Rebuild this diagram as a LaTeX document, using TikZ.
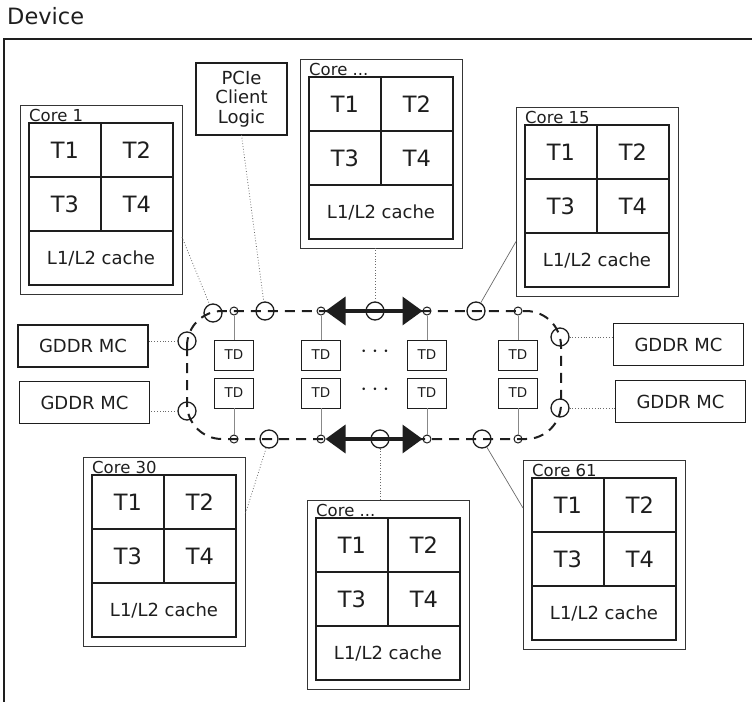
\documentclass[tikz,border=0pt]{standalone}
\usepackage{fontspec}
\setmainfont{DejaVu Sans}
\usetikzlibrary{positioning,fit,arrows.meta}
\definecolor{InkDark}{HTML}{1E1E1E}
\definecolor{WireGray}{HTML}{6A6A6A}

\tikzset{
  box/.style={draw=InkDark, line width=1.3pt, inner sep=0pt, outer sep=0pt, text=InkDark},
  thread/.style={box, minimum width=72pt, minimum height=54pt, font=\fontsize{22.5}{26}\selectfont},
  cache/.style={box, minimum width=144pt, minimum height=54pt, font=\fontsize{18}{21}\selectfont},
  coreframe/.style={draw=InkDark!90, line width=1pt, inner sep=9pt, outer sep=0pt},
  corelabel/.style={inner sep=0pt, text=InkDark, font=\fontsize{16.5}{19}\selectfont},
  memctl/.style={box, minimum width=130pt, minimum height=42pt, font=\fontsize{18}{21}\selectfont},
  tdbox/.style={box, line width=1pt, minimum width=39pt, minimum height=30pt, font=\fontsize{13.5}{15}\selectfont},
  stop/.style={circle, draw=InkDark, line width=1pt, minimum size=8pt, inner sep=0pt},
  hop/.style={circle, draw=InkDark, line width=1.3pt, minimum size=18pt, inner sep=0pt},
  ring/.style={draw=InkDark, line width=2pt, dash pattern=on 10pt off 7pt, rounded corners=35pt},
  link/.style={draw=WireGray, line width=0.8pt, dotted},
  wire/.style={draw=WireGray, line width=0.7pt},
  stub/.style={draw=WireGray!80, line width=0.8pt},
  bus/.style={draw=InkDark, line width=3.5pt, {Triangle[length=20pt,width=28pt]}-{Triangle[length=20pt,width=28pt]}},
  dots/.style={inner sep=0pt, text=InkDark, font=\fontsize{25}{28}\selectfont},
}

% one core: name, top left corner of the thread grid, label
\newcommand{\corebox}[3]{%
  \node[thread, anchor=north west] (#1-t1) at (#2) {T1};
  \node[thread, right=0pt of #1-t1] (#1-t2) {T2};
  \node[thread, below=0pt of #1-t1] (#1-t3) {T3};
  \node[thread, right=0pt of #1-t3] (#1-t4) {T4};
  \node[cache, anchor=north west] (#1-c) at (#1-t3.south west) {L1/L2 cache};
  \coordinate (#1-top) at ([yshift=9pt]#1-t1.north);
  \node[coreframe, fit=(#1-t1)(#1-t4)(#1-c)(#1-top)] (#1) {};
  \node[corelabel, anchor=base west] at ([yshift=2pt]#1-t1.north west) {#3};
}

\begin{document}
\begin{tikzpicture}[x=1pt, y=-1pt]
  \useasboundingbox (0,0) rectangle (752,702);

  % device frame
  \node[anchor=base west, inner sep=0pt, text=InkDark, font=\fontsize{22.5}{26}\selectfont] (devlabel) at (7,24) {Device};
  \draw[InkDark, line width=2.5pt] (752,39) -- (4,39) -- (4,702);

  % cores
  \corebox{core1}{29,123}{Core 1}
  \corebox{ctop}{309,77}{Core ...}
  \corebox{c15}{525,125}{Core 15}
  \corebox{c30}{92,475}{Core 30}
  \corebox{cbot}{316,518}{Core ...}
  \corebox{c61}{532,478}{Core 61}

  % pcie and memory controllers
  \node[box, minimum width=91pt, minimum height=72pt, align=center,
        font=\fontsize{18}{19.5}\selectfont] (pcie) at (241.5,99) {PCIe\\Client\\Logic};
  \node[memctl] (gl1) at (83,346) {GDDR MC};
  \node[memctl] (gl2) at (84.5,402.5) {GDDR MC};
  \node[memctl] (gr1) at (678.5,344.5) {GDDR MC};
  \node[memctl] (gr2) at (680.5,401.5) {GDDR MC};

  % ring
  \draw[ring] (187,311) rectangle (561,439);

  % stops and tag directories
  \foreach \x [count=\i] in {234,321,427,518} {
    \node[stop] (tt\i) at (\x,311) {};
    \node[stop] (tb\i) at (\x,439) {};
    \node[tdbox] (tdu\i) at (\x,355) {TD};
    \node[tdbox] (tdl\i) at (\x,393) {TD};
    \draw[stub] (tt\i) -- (tdu\i);
    \draw[stub] (tdl\i) -- (tb\i);
  }
  \node[dots] (dotsu) at (375,352) {$\cdots$};
  \node[dots] (dotsl) at (375,390) {$\cdots$};

  % ring hops
  \node[hop] (hc1) at (213,313) {};
  \node[hop] (hpcie) at (265,311) {};
  \node[hop] (htop) at (375,311) {};
  \node[hop] (h15) at (476,311) {};
  \node[hop] (hl1) at (187,341) {};
  \node[hop] (hl2) at (187,411) {};
  \node[hop] (hr1) at (560,337) {};
  \node[hop] (hr2) at (560,408) {};
  \node[hop] (h30) at (269,439) {};
  \node[hop] (hbot) at (380,439) {};
  \node[hop] (h61) at (482,439) {};

  % bidirectional links
  \draw[bus] (tt2) -- (tt3);
  \draw[bus] (tb2) -- (tb3);

  % attachments to the ring
  \draw[link] ([yshift=-37.5pt]core1.east) -- (hc1);
  \draw[link] (pcie.south) -- (hpcie);
  \draw[link] (htop) -- (htop |- ctop.south);
  \draw[wire] ([yshift=-40pt]c15.west) -- (h15);
  \draw[link] (hl1) -- (hl1 -| gl1.east);
  \draw[link] (hl2) -- (hl2 -| gl2.east);
  \draw[link] (hr1) -- (hr1 -| gr1.west);
  \draw[link] (hr2) -- (hr2 -| gr2.west);
  \draw[link] (h30) -- ([yshift=36.5pt]c30.east);
  \draw[link] (hbot) -- (hbot |- cbot.north);
  \draw[wire] (h61) -- ([yshift=46.5pt]c61.west);
\end{tikzpicture}
\end{document}
